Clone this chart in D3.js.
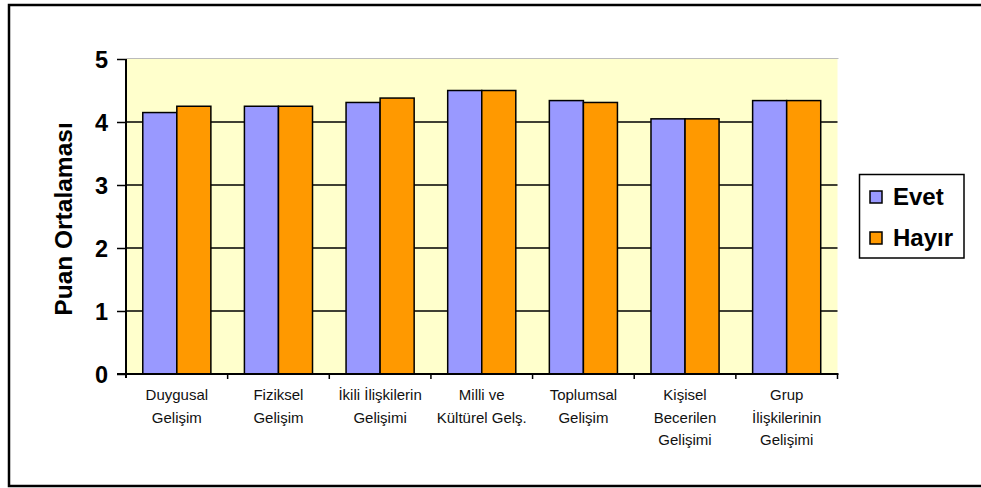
<!DOCTYPE html>
<html><head><meta charset="utf-8">
<script src="https://cdn.jsdelivr.net/npm/d3@7/dist/d3.min.js"></script>
<style>body{margin:0;background:#fff}svg{display:block}</style>
</head><body>
<svg id="c" width="981" height="488"></svg>
<script>
const categories = [
  ["Duygusal","Gelişim"],
  ["Fiziksel","Gelişim"],
  ["İkili İlişkilerin","Gelişimi"],
  ["Milli ve","Kültürel Gelş."],
  ["Toplumsal","Gelişim"],
  ["Kişisel","Becerilen","Gelişimi"],
  ["Grup","İlişkilerinin","Gelişimi"]
];
const seriesNames = ["Evet","Hayır"];
const evet  = [4.15, 4.25, 4.31, 4.50, 4.34, 4.05, 4.34];
const hayir = [4.25, 4.25, 4.38, 4.50, 4.31, 4.05, 4.34];
const yTicks = [0,1,2,3,4,5];
const colors = ["#9999FF","#FF9900"];

const svg = d3.select("#c");
const font = "Arial, 'Liberation Sans', sans-serif";

// outer border
svg.append("rect").attr("x",9).attr("y",5).attr("width",980).attr("height",481)
  .attr("fill","none").attr("stroke","#000").attr("stroke-width",2.5);

const L=126, R=837.5, T=59, B=374;
const x0 = d3.scaleBand().domain(d3.range(categories.length)).range([L,R]).paddingInner(0.33).paddingOuter(0.165);
const x1 = d3.scaleBand().domain([0,1]).range([0,x0.bandwidth()]);
const y = d3.scaleLinear().domain([0,5]).range([B,T]);

svg.append("rect").attr("x",L).attr("y",T).attr("width",R-L).attr("height",B-T).attr("fill","#FFFFCC");
svg.append("line").attr("x1",L).attr("x2",R+1).attr("y1",T-0.5).attr("y2",T-0.5).attr("stroke","#bbb").attr("stroke-width",1);

// gridlines
svg.append("g").selectAll("line").data(yTicks.filter(d=>d>0 && d<5)).join("line")
  .attr("x1",L).attr("x2",R).attr("y1",d=>y(d)).attr("y2",d=>y(d))
  .attr("stroke","#000").attr("stroke-width",1.5);

// bars
const data = categories.map((c,i)=>[evet[i],hayir[i]]);
const g = svg.append("g");
data.forEach((vals,i)=>{
  g.selectAll(null).data(vals).join("rect")
    .attr("x",(d,j)=>x0(i)+x1(j))
    .attr("y",d=>y(d))
    .attr("width",x1.bandwidth())
    .attr("height",d=>y(0)-y(d))
    .attr("fill",(d,j)=>colors[j])
    .attr("stroke","#000").attr("stroke-width",1.5);
});

// y axis
const ya = svg.append("g").attr("transform",`translate(${L},0)`)
  .call(d3.axisLeft(y).tickValues(yTicks).tickSize(9).tickPadding(9).tickFormat(d3.format("d")));
ya.select(".domain").attr("stroke","#000").attr("stroke-width",2).attr("d",`M0,${T}V${B+4}`);
ya.selectAll(".tick line").attr("stroke","#000").attr("stroke-width",1.5);
ya.selectAll(".tick text").attr("font-family",font).attr("font-weight","bold").attr("font-size","23.5px").attr("fill","#000").attr("dy","0.36em");

// x axis
const catBoundaries = d3.range(categories.length+1).map(i=>L+i*(R-L)/categories.length);
svg.append("line").attr("x1",L-9).attr("x2",R+1).attr("y1",B).attr("y2",B).attr("stroke","#000").attr("stroke-width",2);
svg.append("g").selectAll("line").data(catBoundaries.slice(1)).join("line")
  .attr("x1",d=>d).attr("x2",d=>d).attr("y1",B).attr("y2",B+5).attr("stroke","#000").attr("stroke-width",1.5);

const lab = svg.append("g");
categories.forEach((lines,i)=>{
  const cx = x0(i)+x0.bandwidth()/2;
  const t = lab.append("text").attr("x",cx).attr("y",400).attr("text-anchor","middle")
    .attr("font-family",font).attr("font-size","15px").attr("fill","#111");
  lines.forEach((ln,k)=>t.append("tspan").attr("x",cx).attr("dy",k===0?0:22.5).text(ln));
});

// y title
svg.append("text").attr("transform","translate(72,219) rotate(-90)").attr("text-anchor","middle")
  .attr("font-family",font).attr("font-weight","bold").attr("font-size","24.5px").attr("fill","#000")
  .text("Puan Ortalaması");

// legend
const lg = svg.append("g");
lg.append("rect").attr("x",859.5).attr("y",174.5).attr("width",104.5).attr("height",83.5)
  .attr("fill","#fff").attr("stroke","#000").attr("stroke-width",1.5);
seriesNames.forEach((n,k)=>{
  const yy = 191 + k*41;
  lg.append("rect").attr("x",870).attr("y",yy).attr("width",12).attr("height",12)
    .attr("fill",colors[k]).attr("stroke","#000").attr("stroke-width",1.5);
  lg.append("text").attr("x",893).attr("y",yy+14).attr("font-family",font).attr("font-weight","bold")
    .attr("font-size","24px").attr("fill","#000").text(n);
});
</script>
</body></html>
